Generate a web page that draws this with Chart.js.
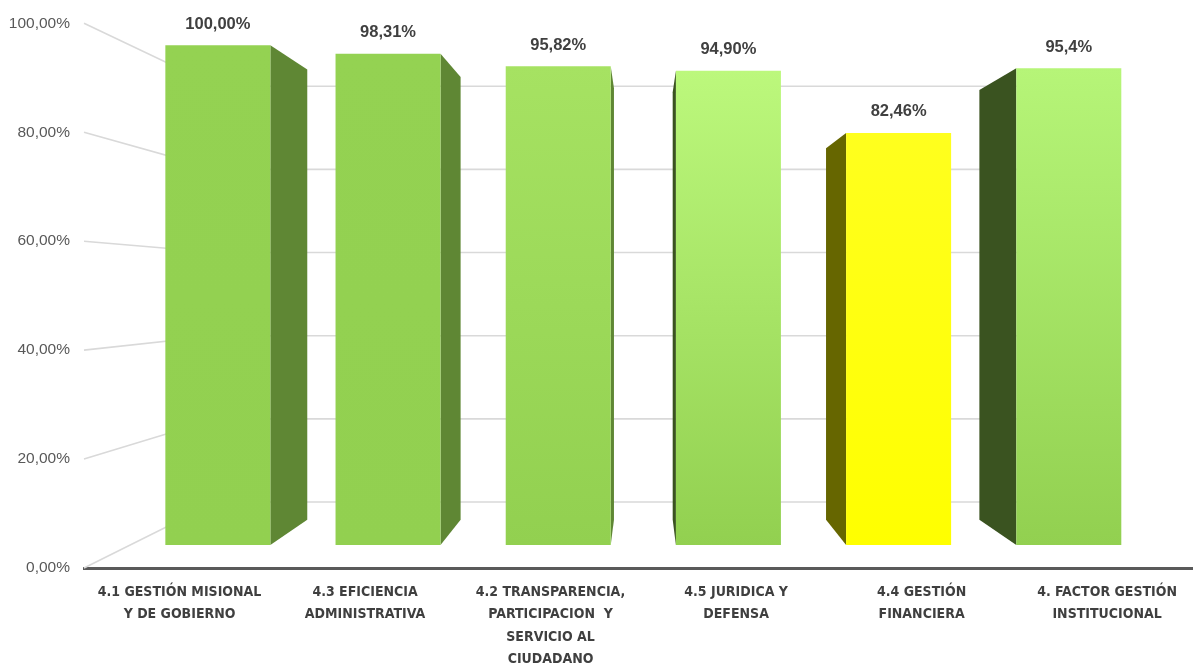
<!DOCTYPE html>
<html>
<head>
<meta charset="utf-8">
<script src="https://cdn.jsdelivr.net/npm/chart.js@4.4.1/dist/chart.umd.min.js"></script>
<style>
  html, body { margin: 0; padding: 0; background: #ffffff; overflow: hidden; }
  #wrap { width: 1193px; height: 667px; }
</style>
</head>
<body>
<div id="wrap"><canvas id="chart" width="1193" height="667"></canvas></div>
<script>
// ---- data ----
const categories = [
  ['4.1 GESTIÓN MISIONAL', 'Y DE GOBIERNO'],
  ['4.3 EFICIENCIA', 'ADMINISTRATIVA'],
  ['4.2 TRANSPARENCIA,', 'PARTICIPACION  Y', 'SERVICIO AL', 'CIUDADANO'],
  ['4.5 JURIDICA Y', 'DEFENSA'],
  ['4.4 GESTIÓN', 'FINANCIERA'],
  ['4. FACTOR GESTIÓN', 'INSTITUCIONAL']
];
const values = [100, 98.31, 95.82, 94.90, 82.46, 95.4];
const valueLabels = ['100,00%', '98,31%', '95,82%', '94,90%', '82,46%', '95,4%'];
const yTicks = [0, 20, 40, 60, 80, 100];
const faceColors = ['#92D050', '#92D050', '#92D050', '#92D050', '#FFFF00', '#92D050'];
const faceHighlights = ['#94D252', '#94D252', '#A6E262', '#BCF87C', '#FFFF1E', '#B6F578'];

// ---- 3-D projection settings (depth factors relative to the front plane) ----
const VANISH_X = 2.5;      // category position of the vanishing point
const VANISH_Y = 51.2;     // axis level of the vanishing point
const BAR_FRONT = 0.9174;  // front faces of the columns
const BAR_BACK = 0.8266;   // back faces of the columns
const WALL = 0.7633;       // back wall carrying the gridlines
const X_MIN = -0.515, X_MAX = 5.463;
const Y_MIN = 0, Y_MAX = 100;

// hidden axes that place the column fronts on their depth plane
const depthRange = (lo, hi, c, s) => [(lo - c * (1 - s)) / s, (hi - c * (1 - s)) / s];
const [XB_MIN, XB_MAX] = depthRange(X_MIN, X_MAX, VANISH_X, BAR_FRONT);
const [YB_MIN, YB_MAX] = depthRange(Y_MIN, Y_MAX, VANISH_Y, BAR_FRONT);

const FONT = '"Liberation Sans", Arial, sans-serif';
const FONT_NARROW = '"Liberation Sans Narrow", "DejaVu Sans Condensed", "Liberation Sans", sans-serif';

function shade(hex, f) {
  const n = parseInt(hex.slice(1), 16);
  const r = Math.round(((n >> 16) & 255) * f);
  const g = Math.round(((n >> 8) & 255) * f);
  const b = Math.round((n & 255) * f);
  return `rgb(${r},${g},${b})`;
}

const perspective = {
  id: 'perspective',
  beforeDatasetsDraw(chart) {
    const { ctx, chartArea, scales: { x, y } } = chart;
    const vx = x.getPixelForValue(VANISH_X);
    const vy = y.getPixelForValue(VANISH_Y);
    const proj = (px, py, s) => [vx + s * (px - vx), vy + s * (py - vy)];

    // side wall and back wall gridlines
    ctx.save();
    ctx.strokeStyle = '#D9D9D9';
    ctx.lineWidth = 1.6;
    yTicks.forEach(v => {
      const py = y.getPixelForValue(v);
      const [bx, by] = proj(chartArea.left, py, WALL);
      ctx.beginPath();
      ctx.moveTo(chartArea.left, py);
      ctx.lineTo(bx, by);
      ctx.lineTo(2 * vx - bx, by);
      ctx.stroke();
    });

    // column side faces
    const k = BAR_BACK / BAR_FRONT;
    const meta = chart.getDatasetMeta(0);
    meta.data.forEach((bar, i) => {
      const p = bar.getProps(['x', 'y', 'base', 'width'], true);
      const rightSide = p.x < vx;
      const edge = rightSide ? p.x + p.width / 2 : p.x - p.width / 2;
      const [tx, ty] = proj(edge, p.y, k);
      const [bx, by] = proj(edge, p.base, k);
      ctx.fillStyle = shade(faceColors[i], rightSide ? 0.65 : 0.4);
      ctx.beginPath();
      ctx.moveTo(edge, p.y);
      ctx.lineTo(tx, ty);
      ctx.lineTo(bx, by);
      ctx.lineTo(edge, p.base);
      ctx.closePath();
      ctx.fill();
    });
    ctx.restore();
  },
  afterDatasetsDraw(chart) {
    const { ctx } = chart;
    const meta = chart.getDatasetMeta(0);
    ctx.save();
    ctx.font = `bold 16.5px ${FONT}`;
    ctx.fillStyle = '#404040';
    ctx.textAlign = 'center';
    ctx.textBaseline = 'middle';
    meta.data.forEach((bar, i) => {
      const p = bar.getProps(['x', 'y'], true);
      ctx.fillText(valueLabels[i], p.x, p.y - 21);
    });
    ctx.restore();
  }
};

const indexTicks = scale => { scale.ticks = values.map((_, i) => ({ value: i })); };

new Chart(document.getElementById('chart'), {
  type: 'bar',
  data: {
    datasets: [{
      data: values.map((v, i) => ({ x: i, y: v })),
      xAxisID: 'xb',
      yAxisID: 'yb',
      barPercentage: 0.617,
      categoryPercentage: 1,
      borderWidth: 0,
      backgroundColor(context) {
        const chart = context.chart;
        const i = context.dataIndex;
        if (!chart.chartArea || !chart.scales.yb) return faceColors[i];
        const yb = chart.scales.yb;
        const top = yb.getPixelForValue(values[i]);
        const base = yb.getPixelForValue(0);
        const g = chart.ctx.createLinearGradient(0, top, 0, base);
        g.addColorStop(0, faceHighlights[i]);
        g.addColorStop(1, faceColors[i]);
        return g;
      }
    }]
  },
  options: {
    responsive: false,
    animation: false,
    devicePixelRatio: 1,
    layout: { padding: { top: 23, left: 0, right: 0, bottom: 0 } },
    plugins: { legend: { display: false }, tooltip: { enabled: false } },
    scales: {
      x: {
        type: 'linear',
        position: 'bottom',
        offset: false,
        min: X_MIN,
        max: X_MAX,
        afterBuildTicks: indexTicks,
        afterFit: s => { s.height = 99; },
        grid: { display: false, drawTicks: false, offset: false },
        border: { display: true, color: '#5A5A5A', width: 3 },
        ticks: {
          autoSkip: false,
          maxRotation: 0,
          padding: 13,
          color: '#3F3F3F',
          font: { family: FONT_NARROW, size: 14, weight: 'bold', lineHeight: 1.6 },
          callback: v => categories[v]
        }
      },
      xb: {
        type: 'linear',
        display: false,
        offset: false,
        grid: { offset: false },
        min: XB_MIN,
        max: XB_MAX,
        afterBuildTicks: indexTicks
      },
      y: {
        type: 'linear',
        position: 'left',
        min: Y_MIN,
        max: Y_MAX,
        afterBuildTicks: s => { s.ticks = yTicks.map(v => ({ value: v })); },
        afterFit: s => { s.width = 84; },
        grid: { display: false, drawTicks: false },
        border: { display: false },
        ticks: {
          padding: 14,
          color: '#595959',
          font: { family: FONT, size: 15.5 },
          callback: v => v.toFixed(2).replace('.', ',') + '%'
        }
      },
      yb: {
        type: 'linear',
        display: false,
        min: YB_MIN,
        max: YB_MAX
      }
    }
  },
  plugins: [perspective]
});
</script>
</body>
</html>
